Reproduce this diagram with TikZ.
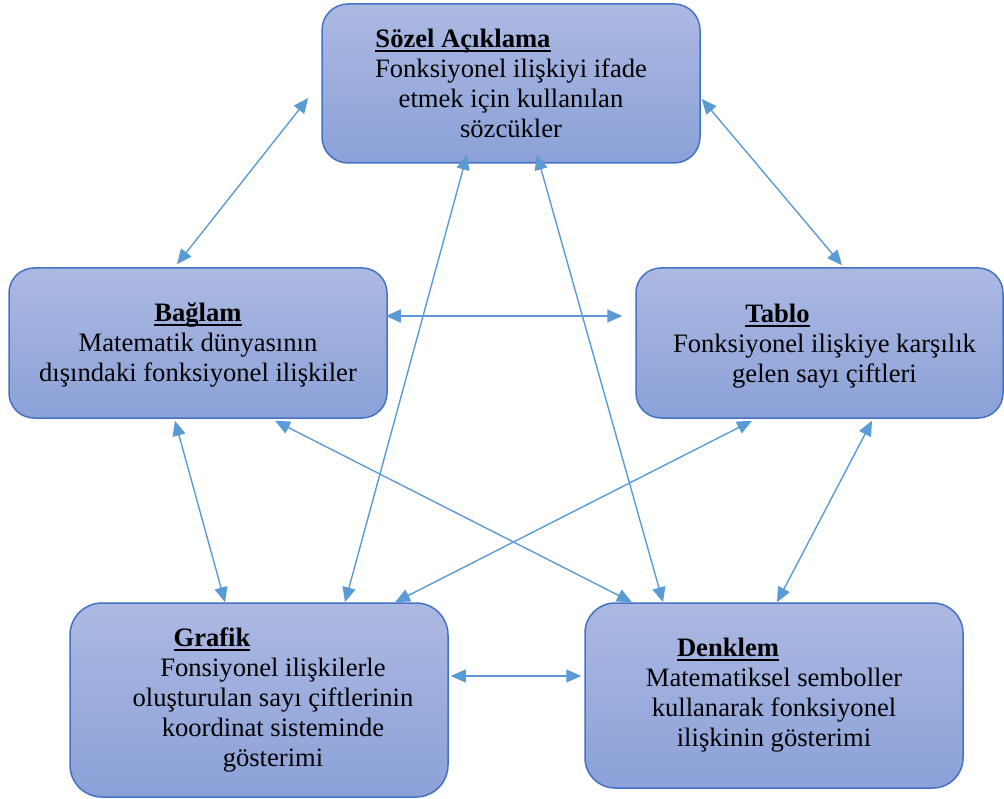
\documentclass[tikz,border=0pt]{standalone}
\usepackage{fontspec}
\setmainfont{Liberation Serif}
\usepackage{xcolor}
\usepackage{tikz}
\usetikzlibrary{arrows.meta, calc}

\definecolor{edgeblue}{HTML}{4472C4}
\definecolor{arrowblue}{HTML}{5B9BD5}
\definecolor{boxtop}{RGB}{172,185,226}
\definecolor{boxbot}{RGB}{139,161,216}

\newlength{\titlewd}
\newcommand{\boxtitle}[2]{\hspace*{#1}\settowidth{\titlewd}{\textbf{#2}}%
  \textbf{#2}\llap{\rule[-2.2pt]{\titlewd}{1pt}}}

\begin{document}
\begin{tikzpicture}[
  x = 0.5pt, y = 0.5pt,
  box/.style = {draw=edgeblue, line width=0.75pt,
                top color=boxtop, bottom color=boxbot,
                inner sep=0pt, minimum width=189pt},
  txt/.style = {align=center, inner sep=0pt,
                font=\fontsize{13.3}{15}\selectfont},
  arr/.style = {{Triangle[length=7.5pt, width=6.5pt]}-{Triangle[length=7.5pt, width=6.5pt]},
                draw=arrowblue, line width=0.7pt},
]
\useasboundingbox (0,0) rectangle (1004,798);

% Boxes
\node[box, minimum height=79.5pt, rounded corners=13pt] (soz) at (511,714.5) {};
\node[box, minimum height=75pt, rounded corners=12.5pt] (bag) at (198,455) {};
\node[box, minimum width=183.5pt, minimum height=75pt, rounded corners=12.5pt] (tab) at (819.5,455) {};
\node[box, minimum height=97pt, rounded corners=16pt] (graf) at (259,98) {};
\node[box, minimum height=92.5pt, rounded corners=15pt] (denk) at (774,102.5) {};

% Texts
\node[txt] (soz-t) at (soz) {\boxtitle{-48pt}{Sözel Açıklama}\\ Fonksiyonel ilişkiyi ifade\\ etmek için kullanılan\\ sözcükler};
\node[txt] (bag-t) at ($(bag)+(0,-2)$) {\boxtitle{0pt}{Bağlam}\\ Matematik dünyasının\\ dışındaki fonksiyonel ilişkiler};
\node[txt] (tab-t) at ($(tab)+(5,-3)$) {\boxtitle{-47pt}{Tablo}\\ Fonksiyonel ilişkiye karşılık\\ gelen sayı çiftleri};
\node[txt] (graf-t) at ($(graf)+(14,0)$) {\boxtitle{-61pt}{Grafik}\\ Fonsiyonel ilişkilerle\\ oluşturulan sayı çiftlerinin\\ koordinat sisteminde\\ gösterimi};
\node[txt] (denk-t) at (denk) {\boxtitle{-46pt}{Denklem}\\ Matematiksel semboller\\ kullanarak fonksiyonel\\ ilişkinin gösterimi};

% Arrows
\draw[arr] ($(soz.west)+(-13,-14.5)$) -- ($(bag.north)+(-21,3)$);
\draw[arr] ($(soz.east)+(1,-15.5)$)   -- ($(tab.north)+(22.5,2)$);
\draw[arr] ($(bag.east)+(-2,27)$)     -- ($(tab.west)+(-13,27)$);
\draw[arr] ($(bag.south)+(-23,-2)$)   -- ($(graf.north)+(-34,0)$);
\draw[arr] ($(tab.south)+(52.5,-2)$)  -- ($(denk.north)+(3,0)$);
\draw[arr] ($(tab.south)+(-67.5,-2)$) -- ($(graf.north)+(136,0)$);
\draw[arr] ($(bag.south)+(77,-2)$)    -- ($(denk.north)+(-142,0)$);
\draw[arr] ($(soz.south)+(-44,9)$)    -- ($(graf.north)+(86,0)$);
\draw[arr] ($(soz.south)+(26,9)$)     -- ($(denk.north)+(-111,0)$);
\draw[arr] ($(graf.east)+(2,24)$)     -- ($(denk.west)+(-3,19.5)$);
\end{tikzpicture}
\end{document}
